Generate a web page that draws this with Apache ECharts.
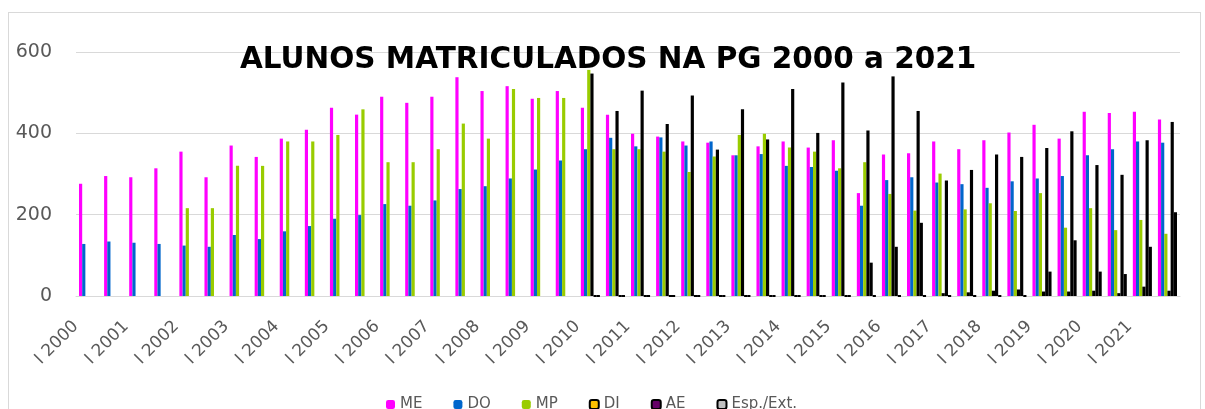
<!DOCTYPE html>
<html>
<head>
<meta charset="utf-8">
<script src="https://cdn.jsdelivr.net/npm/echarts@6/dist/echarts.min.js"></script>
<style>
  html, body { margin: 0; padding: 0; background: #fff; }
  #frame { position: absolute; left: 8px; top: 12px; width: 1191px; height: 420px; border: 1px solid #d9d9d9; }
  #chart { position: absolute; left: 0; top: 0; width: 1205px; height: 409px; }
</style>
</head>
<body>
<div id="frame"></div>
<div id="chart"></div>
<script>
// semesters I / II of each year, 2000-2021
const years = [];
for (let y = 2000; y <= 2021; y++) years.push(y);
const categories = [];
years.forEach(y => { categories.push('I ' + y); categories.push('II ' + y); });

const legendArr = ['ME', 'DO', 'MP', 'DI', 'AE', 'Esp./Ext.'];
const yTicks = [0, 200, 400, 600];

const meData = [276, 295, 292, 314, 355, 292, 370, 342, 387, 409, 463, 446, 490, 475, 490, 538, 504, 516, 485, 504,
  463, 446, 399, 392, 380, 377, 346, 368, 380, 365, 383, 253, 348, 351, 380, 361, 383, 402, 421, 387, 453, 450, 453, 434];
const doData = [128, 134, 131, 128, 124, 121, 150, 140, 159, 172, 190, 199, 226, 222, 235, 263, 270, 289, 311, 333,
  361, 389, 368, 390, 370, 380, 346, 349, 320, 317, 308, 222, 285, 292, 279, 275, 266, 282, 289, 295, 346, 361, 380, 377];
const mpData = [null, null, null, null, 216, 216, 320, 320, 380, 380, 396, 459, 329, 329, 361, 424, 387, 509, 487, 487,
  556, 361, 361, 355, 305, 343, 396, 399, 365, 355, 314, 329, 251, 210, 301, 213, 228, 209, 253, 168, 216, 162, 187, 153];
const diData = [null, null, null, null, null, null, null, null, null, null, null, null, null, null, null, null, null, null, null, null,
  547, 455, 505, 423, 493, 360, 459, 385, 509, 401, 525, 407, 540, 455, 7, 9, 13, 16, 11, 11, 13, 7, 23, 13];
const aeData = [null, null, null, null, null, null, null, null, null, null, null, null, null, null, null, null, null, null, null, null,
  0, 0, 0, 0, 0, 0, 0, 0, 0, 0, 0, 82, 121, 180, 284, 310, 348, 342, 364, 405, 322, 298, 383, 428];
const espData = [null, null, null, null, null, null, null, null, null, null, null, null, null, null, null, null, null, null, null, null,
  0, 0, 0, 0, 0, 0, 0, 0, 0, 0, 0, 0, 0, 0, 0, 0, 0, 0, 60, 137, 60, 54, 121, 206];

const colors = ['#ff00ff', '#0066cc', '#99cc00', '#ffc000', '#660066', '#bfbfbf'];
const borders = [0, 0, 0, 2, 2, 2];
const seriesValues = [meData, doData, mpData, diData, aeData, espData];

const chart = echarts.init(document.getElementById('chart'));

const series = seriesValues.map((vals, i) => ({
  name: legendArr[i],
  type: 'bar',
  barGap: '0%',
  barCategoryGap: '24%',
  itemStyle: {
    color: colors[i],
    borderColor: '#000',
    borderWidth: borders[i]
  },
  emphasis: { disabled: true },
  data: vals
}));

const option = {
  backgroundColor: 'transparent',
  animation: false,
  title: {
    text: 'ALUNOS MATRICULADOS NA PG 2000 a 2021',
    left: 235,
    top: 40,
    textStyle: { fontFamily: 'DejaVu Sans', fontSize: 29.5, fontWeight: 'bold', color: '#000' }
  },
  legend: {
    data: legendArr,
    left: 381,
    top: 392,
    itemWidth: 9,
    itemHeight: 9,
    itemGap: 31,
    textStyle: { fontFamily: 'DejaVu Sans', fontSize: 15, color: '#595959' }
  },
  grid: { left: 76, right: 25, top: 52, bottom: 113, containLabel: false },
  xAxis: {
    type: 'category',
    data: categories,
    axisLine: { lineStyle: { color: '#d9d9d9' } },
    axisTick: { interval: 0, length: 6, lineStyle: { color: '#d9d9d9' } },
    axisLabel: {
      interval: 1,
      rotate: 45,
      margin: 15,
      padding: [0, 18, 0, 0],
      fontFamily: 'DejaVu Sans',
      fontSize: 17,
      color: '#595959'
    }
  },
  yAxis: {
    type: 'value',
    min: yTicks[0],
    max: yTicks[yTicks.length - 1],
    interval: 200,
    axisLine: { show: false },
    axisTick: { show: false },
    axisLabel: { margin: 24, fontFamily: 'DejaVu Sans', fontSize: 19, color: '#595959' },
    splitLine: { lineStyle: { color: '#d9d9d9' } }
  },
  series: series
};

chart.setOption(option);
</script>
</body>
</html>
